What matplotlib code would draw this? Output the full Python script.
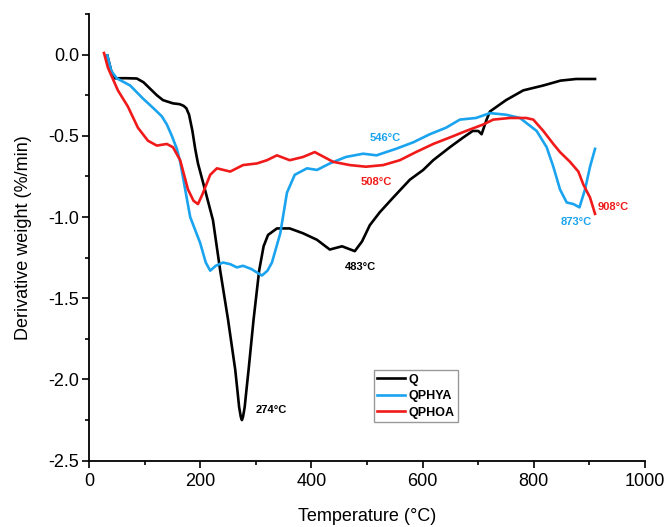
import matplotlib
matplotlib.use("Agg")
import matplotlib.pyplot as plt
from matplotlib.ticker import MultipleLocator, FormatStrFormatter

plt.rcParams['font.family'] = ['Liberation Sans', 'DejaVu Sans']

# DTG curves: temperature (°C) and derivative weight (%/min)
q_temp = [33, 40, 47, 65, 86, 98, 110, 122, 133, 151, 163, 170, 175, 180, 186,
          191, 196, 210, 223, 236, 250, 263, 267, 270, 273, 275, 277, 280, 283,
          287, 296, 306, 314, 322, 338, 361, 385, 410, 433, 455, 478, 491, 505,
          523, 547, 577, 601, 619, 649, 673, 690, 700, 706, 715, 721, 750, 781,
          817, 848, 876, 910]
q_dtg = [-0.005, -0.10, -0.146, -0.145, -0.147, -0.17, -0.21, -0.25, -0.28, -0.30,
         -0.305, -0.315, -0.33, -0.37, -0.47, -0.58, -0.67, -0.85, -1.02, -1.33,
         -1.63, -1.94, -2.07, -2.17, -2.23, -2.25, -2.23, -2.17, -2.07, -1.94,
         -1.63, -1.33, -1.18, -1.11, -1.07, -1.07, -1.10, -1.14, -1.20, -1.18,
         -1.21, -1.15, -1.05, -0.97, -0.88, -0.77, -0.71, -0.65, -0.57, -0.51,
         -0.47, -0.47, -0.49, -0.40, -0.35, -0.28, -0.22, -0.19, -0.16, -0.15,
         -0.15]

phya_temp = [33, 40, 50, 74, 97, 119, 131, 140, 149, 158, 164, 182, 200, 210, 218,
             228, 241, 254, 266, 277, 292, 311, 321, 329, 344, 356, 370, 392, 410,
             433, 462, 493, 517, 552, 583, 613, 642, 667, 696, 721, 750, 775, 805,
             823, 835, 847, 859, 871, 882, 892, 901, 910]
phya_dtg = [-0.005, -0.10, -0.146, -0.19, -0.27, -0.34, -0.38, -0.43, -0.50, -0.58,
            -0.66, -1.00, -1.16, -1.28, -1.33, -1.30, -1.28, -1.29, -1.31, -1.30,
            -1.32, -1.36, -1.33, -1.28, -1.10, -0.85, -0.74, -0.70, -0.71, -0.67,
            -0.63, -0.61, -0.62, -0.58, -0.54, -0.49, -0.45, -0.40, -0.39, -0.36,
            -0.37, -0.39, -0.47, -0.57, -0.69, -0.83, -0.91, -0.92, -0.94, -0.83,
            -0.69, -0.58]

phoa_temp = [27, 34, 52, 70, 88, 106, 122, 140, 151, 164, 178, 188, 196, 204, 218,
             230, 254, 277, 302, 320, 338, 361, 385, 406, 428, 439, 469, 498, 529,
             559, 588, 619, 649, 678, 709, 727, 757, 786, 799, 817, 835, 847, 865,
             880, 889, 901, 910]
phoa_dtg = [0.01, -0.08, -0.22, -0.32, -0.45, -0.53, -0.56, -0.55, -0.57, -0.65,
            -0.83, -0.90, -0.92, -0.86, -0.74, -0.70, -0.72, -0.68, -0.67, -0.65,
            -0.62, -0.65, -0.63, -0.60, -0.64, -0.66, -0.68, -0.69, -0.68, -0.65,
            -0.60, -0.55, -0.51, -0.47, -0.43, -0.40, -0.39, -0.39, -0.40, -0.47,
            -0.55, -0.60, -0.66, -0.72, -0.80, -0.88, -0.98]

series_names = ['Q', 'QPHYA', 'QPHOA']
series_colors = ['#000000', '#1AA3EE', '#F01A1A']

# peak annotations
peak_labels = ['274°C', '483°C', '546°C', '508°C', '873°C', '908°C']
peak_x = [328, 489, 533, 517, 877, 942]
peak_y = [-2.19, -1.31, -0.515, -0.785, -1.03, -0.94]
peak_color = [0, 0, 1, 2, 1, 2]

fig = plt.figure(figsize=(6.66, 5.27), dpi=100)
ax = fig.add_axes([0.1336, 0.1258, 0.835, 0.8476])

for t, d, name, c in zip([q_temp, phya_temp, phoa_temp],
                         [q_dtg, phya_dtg, phoa_dtg],
                         series_names, series_colors):
    ax.plot(t, d, color=c, lw=1.9, label=name, solid_joinstyle='round')

for s, x, y, ci in zip(peak_labels, peak_x, peak_y, peak_color):
    ax.text(x, y, s, color=series_colors[ci], fontsize=8, fontweight='bold',
            ha='center', va='center')

ax.set_xlim(0, 1000)
ax.set_ylim(-2.5, 0.25)
ax.xaxis.set_major_locator(MultipleLocator(200))
ax.xaxis.set_minor_locator(MultipleLocator(100))
ax.yaxis.set_major_locator(MultipleLocator(0.5))
ax.yaxis.set_minor_locator(MultipleLocator(0.25))
ax.yaxis.set_major_formatter(FormatStrFormatter('%.1f'))

for side in ['top', 'right']:
    ax.spines[side].set_visible(False)
for side in ['left', 'bottom']:
    ax.spines[side].set_linewidth(1.3)

ax.tick_params(which='major', direction='out', length=5, width=1.2,
               labelsize=13, pad=2)
ax.tick_params(which='minor', direction='out', length=3, width=1.2)
ax.tick_params(axis='x', which='major', pad=4)

ax.set_xlabel('Temperature (°C)', fontsize=13, labelpad=13)
ax.set_ylabel('Derivative weight (%/min)', fontsize=13, labelpad=12)

leg = ax.legend(loc='upper left', bbox_to_anchor=(0.512, 0.203), frameon=True,
                fancybox=False, fontsize=9, handlelength=2.2, handletextpad=0.25,
                borderpad=0.3, labelspacing=0.35, borderaxespad=0)
leg.get_frame().set_edgecolor('#808080')
leg.get_frame().set_linewidth(1.0)
for txt in leg.get_texts():
    txt.set_fontweight('bold')

fig.savefig('out.png', dpi=100)
